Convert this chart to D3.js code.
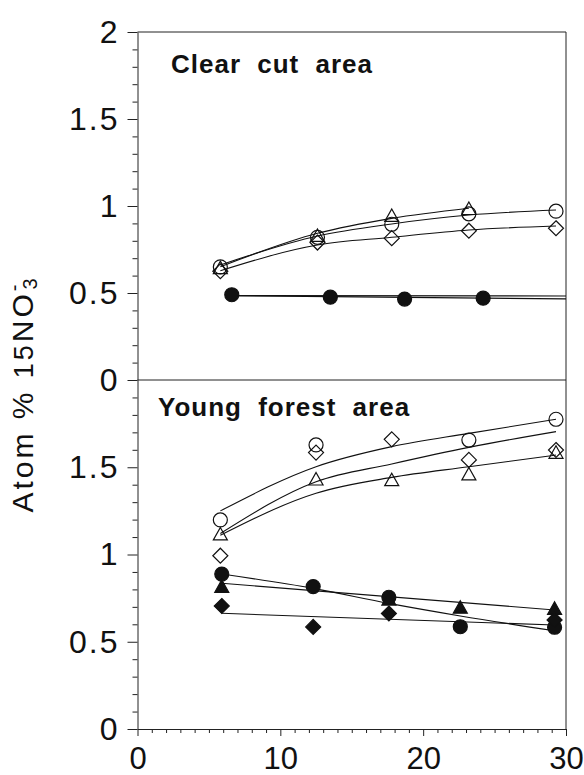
<!DOCTYPE html>
<html>
<head>
<meta charset="utf-8">
<script src="https://d3js.org/d3.v7.min.js"></script>
<style>
  body { margin: 0; background: #fff; }
  svg { font-family: "Liberation Sans", Arial, sans-serif; }
  .tick text { font-size: 32px; fill: #111; letter-spacing: 2px; }
  .xaxis .tick text { font-size: 31px; letter-spacing: 0; }
  .axis path, .axis line { stroke: #222; stroke-width: 1; }
  .panel-title { font-size: 26px; font-weight: bold; letter-spacing: 1px; word-spacing: 8px; fill: #111; }
  .fit { fill: none; stroke: #111; stroke-width: 1.1; }
</style>
</head>
<body>
<svg width="584" height="775"></svg>
<script>
// ---- clear cut area (top panel) ----
const ccDays = [5.8, 12.6, 17.8, 23.2, 29.3];
const ccCircleOpen = [0.65, 0.82, 0.895, 0.955, 0.97];
const ccTriangleOpen = [0.64, 0.825, 0.94, 0.98, null];
const ccDiamondOpen = [0.625, 0.79, 0.815, 0.858, 0.872];
const ccCircleFit = [0.661, 0.828, 0.897, 0.948, 0.977];
const ccTriangleFit = [0.651, 0.843, 0.929, 0.987, null];
const ccDiamondFit = [0.628, 0.776, 0.82, 0.862, 0.885];

const ccFilledDays = [6.6, 13.5, 18.7, 24.2];
const ccCircleFilled = [0.49, 0.476, 0.465, 0.47];
const ccFilledFitDays = [6.6, 30];
const ccFilledFitA = [0.485, 0.466];
const ccFilledFitB = [0.485, 0.483];

// ---- young forest area (bottom panel) ----
const yfDays = [5.8, 12.5, 17.8, 23.2, 29.3];
const yfCircleOpen = [1.198, 1.628, null, 1.656, 1.775];
const yfDiamondOpen = [0.993, 1.584, 1.66, 1.542, 1.599];
const yfTriangleOpen = [1.112, 1.427, 1.423, 1.456, 1.58];
const yfCircleFit = [1.25, 1.503, 1.618, 1.694, 1.775];
const yfDiamondFit = [1.12, 1.417, 1.519, 1.614, 1.704];
const yfTriangleFit = [1.11, 1.351, 1.442, 1.503, 1.57];

const yfFilledDays = [5.9, 12.3, 17.6, 22.6, 29.2];
const yfCircleFilled = [0.888, 0.816, 0.755, 0.586, 0.583];
const yfTriangleFilled = [0.812, null, 0.739, 0.692, 0.686];
const yfDiamondFilled = [0.705, 0.585, 0.662, null, 0.625];
const yfCircleFilledFit = [0.888, 0.806, 0.72, 0.648, 0.563];
const yfLineDays = [5.9, 29.2];
const yfTriangleFilledFit = [0.835, 0.682];
const yfDiamondFilledFit = [0.663, 0.596];

// ---- axes ----
const xTicks = [0, 10, 20, 30];
const xMinor = [1,2,3,4,5,6,7,8,9,11,12,13,14,15,16,17,18,19,21,22,23,24,25,26,27,28,29];
const yTicksTop = [0, 0.5, 1, 1.5, 2];
const yTicksBottom = [0, 0.5, 1, 1.5];
const yMinor = [0.1,0.2,0.3,0.4,0.6,0.7,0.8,0.9,1.1,1.2,1.3,1.4,1.6,1.7,1.8,1.9];

const svg = d3.select("svg");
const left = 137.5, right = 566;

const x = d3.scaleLinear().domain([0, 30]).range([left, right]);
const yTop = d3.scaleLinear().domain([0, 2]).range([380, 32]);
const yBot = d3.scaleLinear().domain([0, 2]).range([729, 380]);

function shape(type) {
  if (type === "triangle") return "M0,-7.5L7,5L-7,5Z";
  if (type === "diamond") return "M0,-7.5L7.5,0L0,7.5L-7.5,0Z";
  return "M7,0A7,7 0 1,1 -7,0A7,7 0 1,1 7,0Z";
}

function drawFit(y, days, vals) {
  const pts = days.map((d, i) => [d, vals[i]]).filter(p => p[1] != null);
  svg.append("path")
    .attr("class", "fit")
    .attr("d", d3.line().x(p => x(p[0])).y(p => y(p[1])).curve(d3.curveMonotoneX)(pts));
}

function drawPoints(y, days, vals, type, filled) {
  const pts = days.map((d, i) => [d, vals[i]]).filter(p => p[1] != null);
  svg.append("g").selectAll("path")
    .data(pts)
    .join("path")
      .attr("transform", p => `translate(${x(p[0])},${y(p[1])})`)
      .attr("d", shape(type))
      .attr("fill", filled ? "#111" : "none")
      .attr("stroke", "#111")
      .attr("stroke-width", 1.2);
}

// frame
svg.append("line").attr("x1", left).attr("x2", right).attr("y1", yTop(2)).attr("y2", yTop(2)).attr("stroke", "#222");
svg.append("line").attr("x1", right).attr("x2", right).attr("y1", yTop(2)).attr("y2", yBot(0)).attr("stroke", "#222");
svg.append("line").attr("x1", left).attr("x2", right).attr("y1", yTop(0)).attr("y2", yTop(0)).attr("stroke", "#222");

// y axes
function yAxis(y, ticks) {
  svg.append("g").attr("class", "axis")
    .attr("transform", `translate(${left},0)`)
    .call(d3.axisLeft(y).tickValues(yMinor).tickSize(5).tickFormat("").tickSizeOuter(0))
    .call(g => g.select(".domain").remove());
  svg.append("g").attr("class", "axis")
    .attr("transform", `translate(${left},0)`)
    .call(d3.axisLeft(y).tickValues(ticks).tickSize(10).tickPadding(8).tickSizeOuter(0).tickFormat(d => String(d)));
}
yAxis(yTop, yTicksTop);
yAxis(yBot, yTicksBottom);

// x axis
svg.append("g").attr("class", "axis")
  .attr("transform", `translate(0,${yBot(0)})`)
  .call(d3.axisBottom(x).tickValues(xMinor).tickSize(4).tickFormat("").tickSizeOuter(0))
  .call(g => g.select(".domain").remove());
svg.append("g").attr("class", "axis xaxis")
  .attr("transform", `translate(0,${yBot(0)})`)
  .call(d3.axisBottom(x).tickValues(xTicks).tickSize(7).tickPadding(11).tickSizeOuter(0));

// panel titles
svg.append("text").attr("class", "panel-title").attr("x", 171).attr("y", 73).text("Clear cut area");
svg.append("text").attr("class", "panel-title").attr("x", 158).attr("y", 416).text("Young forest area");

// y title
const yt = svg.append("text")
  .attr("transform", "translate(33,394) rotate(-90)")
  .attr("text-anchor", "middle")
  .style("font-size", "30px")
  .style("letter-spacing", "3px")
  .attr("fill", "#111");
yt.append("tspan").text("Atom % ");
yt.append("tspan").style("font-size", "27px").text("15");
yt.append("tspan").text("NO");
yt.append("tspan").attr("dy", -12).style("font-size", "20px").text("-");
yt.append("tspan").attr("dx", -8).attr("dy", 16).style("font-size", "20px").text("3");

// top panel
drawFit(yTop, ccDays, ccCircleFit);
drawFit(yTop, ccDays, ccTriangleFit);
drawFit(yTop, ccDays, ccDiamondFit);
drawFit(yTop, ccFilledFitDays, ccFilledFitA);
drawFit(yTop, ccFilledFitDays, ccFilledFitB);
drawPoints(yTop, ccDays, ccCircleOpen, "circle", false);
drawPoints(yTop, ccDays, ccTriangleOpen, "triangle", false);
drawPoints(yTop, ccDays, ccDiamondOpen, "diamond", false);
drawPoints(yTop, ccFilledDays, ccCircleFilled, "circle", true);

// bottom panel
drawFit(yBot, yfDays, yfCircleFit);
drawFit(yBot, yfDays, yfDiamondFit);
drawFit(yBot, yfDays, yfTriangleFit);
drawFit(yBot, yfFilledDays, yfCircleFilledFit);
drawFit(yBot, yfLineDays, yfTriangleFilledFit);
drawFit(yBot, yfLineDays, yfDiamondFilledFit);
drawPoints(yBot, yfDays, yfCircleOpen, "circle", false);
drawPoints(yBot, yfDays, yfDiamondOpen, "diamond", false);
drawPoints(yBot, yfDays, yfTriangleOpen, "triangle", false);
drawPoints(yBot, yfFilledDays, yfCircleFilled, "circle", true);
drawPoints(yBot, yfFilledDays, yfTriangleFilled, "triangle", true);
drawPoints(yBot, yfFilledDays, yfDiamondFilled, "diamond", true);
</script>
</body>
</html>
